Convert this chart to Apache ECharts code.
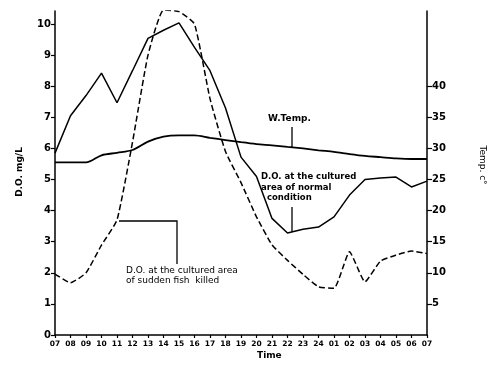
<!DOCTYPE html>
<html><head><meta charset="utf-8">
<script src="https://cdn.jsdelivr.net/npm/echarts@6/dist/echarts.min.js"></script>
<style>html,body{margin:0;padding:0;background:#fff}#c{width:500px;height:368px}</style>
</head><body><div id="c"></div>
<script>
const times = ["07","08","09","10","11","12","13","14","15","16","17","18","19","20","21","22","23","24","01","02","03","04","05","06","07"];
const doNormal = [5.85,7.05,7.7,8.42,7.47,8.5,9.54,9.8,10.04,9.25,8.5,7.3,5.72,5.1,3.75,3.28,3.4,3.47,3.8,4.5,5.0,5.05,5.08,4.76,4.95];
const doFishKilled = [1.96,1.68,2.0,2.89,3.7,6.2,9.0,10.45,10.4,10.0,7.6,5.9,4.9,3.8,2.9,2.4,1.95,1.55,1.5,2.68,1.71,2.38,2.57,2.7,2.62];
const waterTemp = [27.75,27.75,27.75,28.9,29.3,29.75,31.1,31.9,32.1,32.1,31.7,31.35,31.0,30.7,30.5,30.25,30.0,29.7,29.45,29.1,28.8,28.6,28.4,28.3,28.3];
const doTicks = [0,1,2,3,4,5,6,7,8,9,10];
const tempTicks = [5,10,15,20,25,30,35,40];

const F = 'DejaVu Sans';
const chart = echarts.init(document.getElementById('c'), null, {renderer:'canvas'});
chart.setOption({
  animation:false,
  backgroundColor:'#fff',
  grid:{left:55,right:73,top:11,bottom:33},
  xAxis:{type:'category',data:times,boundaryGap:false,
    axisLine:{lineStyle:{color:'#000',width:1.5}},
    axisTick:{show:true,alignWithLabel:true,length:3,interval:0,lineStyle:{color:'#000',width:1.2}},
    axisLabel:{interval:0,color:'#000',fontFamily:F,fontSize:7.5,fontWeight:'bold',margin:5},
    splitLine:{show:false}},
  yAxis:[
    {type:'value',min:0,max:10.42,position:'left',
     axisLine:{show:true,lineStyle:{color:'#000',width:1.5}},
     axisTick:{show:true,length:4,customValues:doTicks,lineStyle:{color:'#000',width:1.2}},
     axisLabel:{customValues:doTicks,color:'#000',fontFamily:F,fontSize:10,fontWeight:'bold',margin:4},
     splitLine:{show:false}},
    {type:'value',min:0,max:52.1,position:'right',
     axisLine:{show:true,lineStyle:{color:'#000',width:1.5}},
     axisTick:{show:true,length:5,inside:false,customValues:tempTicks,lineStyle:{color:'#000',width:1.2}},
     axisLabel:{customValues:tempTicks,color:'#000',fontFamily:F,fontSize:10,fontWeight:'bold',margin:5},
     splitLine:{show:false}}
  ],
  series:[
    {name:'W.Temp.',type:'line',yAxisIndex:1,data:waterTemp,showSymbol:false,smooth:0.3,
     lineStyle:{color:'#000',width:1.8}},
    {name:'D.O. normal',type:'line',yAxisIndex:0,data:doNormal,showSymbol:false,
     lineStyle:{color:'#000',width:1.5}},
    {name:'D.O. fish killed',type:'line',yAxisIndex:0,data:doFishKilled,showSymbol:false,smooth:0.15,
     lineStyle:{color:'#000',width:1.5,type:[6,3]}}
  ],
  graphic:[
    {type:'text',left:257,top:351,style:{text:'Time',font:'bold 9px "DejaVu Sans"',fill:'#000'}},
    {type:'text',x:20,y:172,rotation:Math.PI/2,style:{text:'D.O. mg/L',font:'bold 9px "DejaVu Sans"',fill:'#000',align:'center',verticalAlign:'middle'}},
    {type:'text',x:482,y:165,rotation:-Math.PI/2,style:{text:'Temp. c°',font:'9px "DejaVu Sans"',fill:'#000',align:'center',verticalAlign:'middle'}},
    {type:'text',left:268,top:114,style:{text:'W.Temp.',font:'bold 9px "DejaVu Sans"',fill:'#000'}},
    {type:'line',shape:{x1:292,y1:127,x2:292,y2:147},style:{stroke:'#000',lineWidth:1.3}},
    {type:'text',left:261,top:172,style:{text:'D.O. at the cultured\narea of normal\n  condition',font:'bold 8.5px "DejaVu Sans"',fill:'#000',lineHeight:10.5}},
    {type:'line',shape:{x1:292,y1:207,x2:292,y2:232},style:{stroke:'#000',lineWidth:1.3}},
    {type:'text',left:126,top:266,style:{text:'D.O. at the cultured area\nof sudden fish  killed',font:'9px "DejaVu Sans"',fill:'#000',lineHeight:10}},
    {type:'polyline',shape:{points:[[177,264],[177,221],[119,221]]},style:{stroke:'#000',lineWidth:1.3,fill:null}}
  ]
});
</script></body></html>
